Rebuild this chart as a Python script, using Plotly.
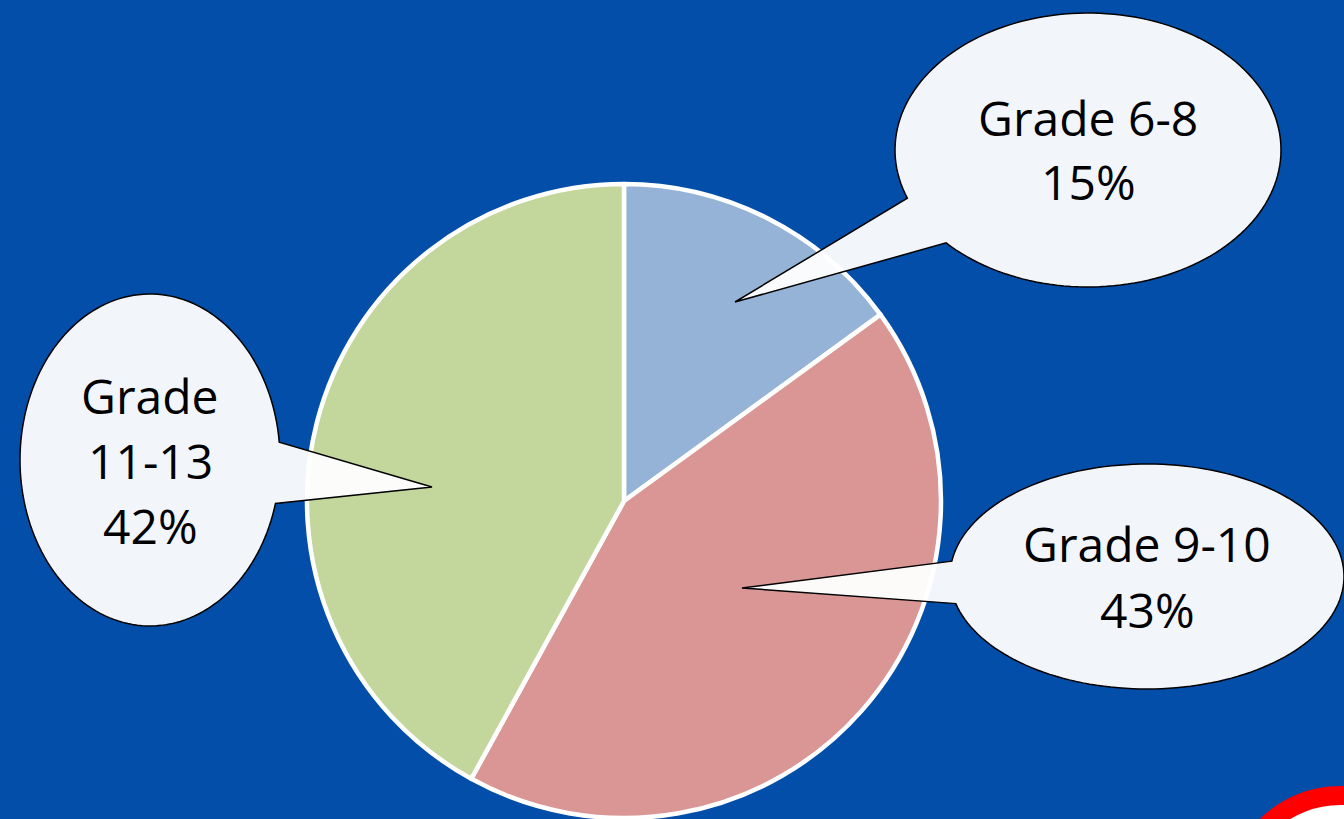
import math
import plotly.graph_objects as go

# ---- data ----
categories = ["Grade 6-8", "Grade 9-10", "Grade 11-13"]
values = [15, 43, 42]
slice_colors = ["#95B3D7", "#D99694", "#C3D69B"]

W, H = 1344, 819
BG = "#034EA8"


def px(x):
    return x / W


def py(y):
    return 1 - y / H


def callout_path(cx, cy, rx, ry, b1, b2, tip, n=160):
    """Ellipse outline with a pointer wedge (pixel coords -> paper path)."""
    a = math.atan2((b1[1] - cy) / ry, (b1[0] - cx) / rx)
    b = math.atan2((b2[1] - cy) / ry, (b2[0] - cx) / rx)
    d = (a - b) % (2 * math.pi)
    if d > math.pi:
        span = d
    else:
        span = -(2 * math.pi - d)
    pts = []
    for i in range(n + 1):
        t = b + span * i / n
        pts.append((cx + rx * math.cos(t), cy + ry * math.sin(t)))
    pts.append(tip)
    s = "M " + " L ".join(f"{px(x):.5f},{py(y):.5f}" for x, y in pts) + " Z"
    return s


fig = go.Figure()

cxp, cyp, R = 624, 501, 317
fig.add_trace(go.Pie(
    labels=categories,
    values=values,
    sort=False,
    direction="clockwise",
    rotation=0,
    marker=dict(colors=slice_colors, line=dict(color="white", width=4.5)),
    textinfo="none",
    hoverinfo="skip",
    showlegend=False,
    domain=dict(x=[px(cxp - R), px(cxp + R)], y=[py(cyp + R), py(cyp - R)]),
))

# callout geometry (decoration)
callouts = [
    dict(cx=1088, cy=150, rx=193, ry=137, b1=(908, 198), b2=(946, 243), tip=(735, 302),
         lines=[(categories[0], 1088, 118), (f"{values[0]}%", 1088, 181.5)]),
    dict(cx=1147, cy=576.5, rx=197, ry=112.5, b1=(950, 561), b2=(953, 604), tip=(742, 588),
         lines=[(categories[1], 1147, 543), (f"{values[1]}%", 1147, 609.5)]),
    dict(cx=150, cy=460, rx=130, ry=166, b1=(280, 442), b2=(277, 504), tip=(432, 487),
         lines=[(categories[2].split(" ")[0], 150, 395), (categories[2].split(" ")[1], 150, 460.5),
                (f"{values[2]}%", 150, 525.5)]),
]

shapes = []
annotations = []
for c in callouts:
    shapes.append(dict(
        type="path", xref="paper", yref="paper", layer="above",
        path=callout_path(c["cx"], c["cy"], c["rx"], c["ry"], c["b1"], c["b2"], c["tip"]),
        fillcolor="rgba(255,255,255,0.95)",
        line=dict(color="black", width=1.5),
    ))
    for txt, x, y in c["lines"]:
        annotations.append(dict(
            text=txt, x=px(x), y=py(y), xref="paper", yref="paper",
            xanchor="center", yanchor="middle", showarrow=False,
            font=dict(family="Open Sans", size=48, color="black"),
        ))

# logo fragment at bottom-right corner
rc_x, rc_y, rr = 1340, 900, 104.5
shapes.append(dict(
    type="circle", xref="paper", yref="paper", layer="above",
    x0=px(rc_x - rr), x1=px(rc_x + rr), y0=py(rc_y + rr), y1=py(rc_y - rr),
    fillcolor="white", line=dict(color="#FF0000", width=19),
))

fig.update_layout(
    width=W, height=H,
    margin=dict(l=0, r=0, t=0, b=0),
    paper_bgcolor=BG, plot_bgcolor=BG,
    shapes=shapes, annotations=annotations,
    showlegend=False,
)

fig.write_html("out.html", config={"displayModeBar": False})
